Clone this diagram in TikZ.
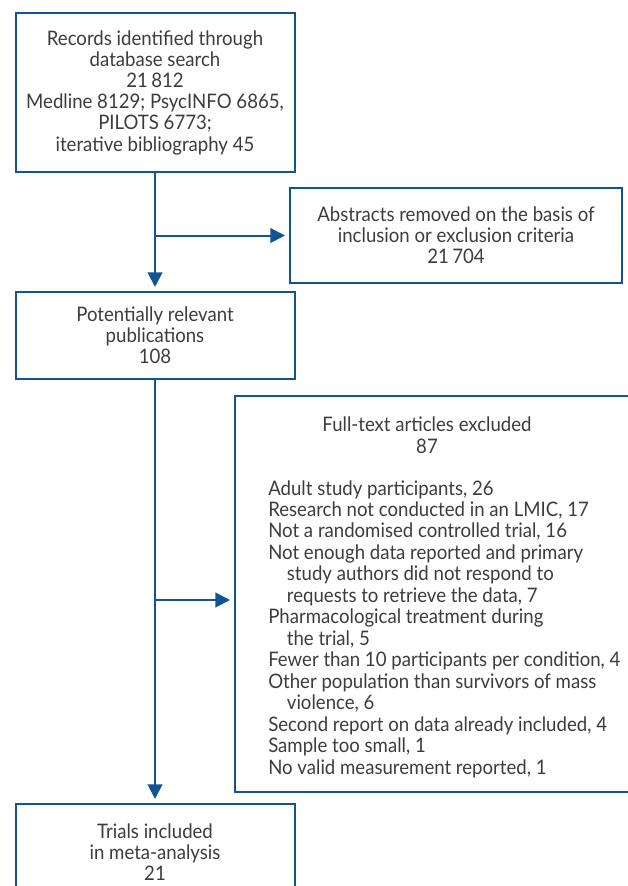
\documentclass[tikz,border=0pt]{standalone}
\usepackage{fontspec}
\setmainfont{Lato}[FakeStretch=0.93]
\usetikzlibrary{arrows.meta}
\definecolor{flowblue}{RGB}{17,84,146}
\definecolor{flowtext}{RGB}{60,60,60}
\tikzset{
	prisma box/.style={draw=flowblue, line width=1.5pt, align=center, inner sep=0pt,
		text=flowtext, font=\fontsize{15}{15.9}\selectfont},
	box text/.style={inner sep=0pt, text=flowtext, font=\fontsize{15}{16.1}\selectfont},
	flow arrow/.style={draw=flowblue, line width=1.5pt,
		-{Triangle[width=11pt,length=11pt]}, shorten >=3pt}
}

\begin{document}
\begin{tikzpicture}[x=0.75pt,y=0.75pt,yscale=-1,xscale=1]
	\useasboundingbox (0,0) rectangle (628,886);

	%Boxes
	\node [prisma box, minimum width=209.25pt, minimum height=119.25pt] (records) at (155,92.5)
		{Records identified through\\database search\\21\,812\\Medline 8129; PsycINFO 6865,\\PILOTS 6773;\\iterative bibliography 45};
	\node [prisma box, minimum width=249pt, minimum height=71.25pt] (abstracts) at (456,235.5)
		{Abstracts removed on the basis of\\inclusion or exclusion criteria\\21\,704};
	\node [prisma box, minimum width=209.25pt, minimum height=65.25pt] (relevant) at (155,335.5)
		{Potentially relevant\\publications\\108};
	\node [prisma box, minimum width=307.5pt, minimum height=297pt] (fulltext) at (440,593.5) {};
	\node [prisma box, minimum width=209.25pt, minimum height=72pt] (trials) at (155,852)
		{Trials included\\in meta-analysis\\21};

	% Text Node
	\node [box text, align=center] (ftheading) at (427,435) {Full-text articles excluded\\87};
	% Text Node
	\node [box text, align=left, anchor=north west] (ftreasons) at (268,480)
		{Adult study participants, 26\\
		Research not conducted in an LMIC, 17\\
		Not a randomised controlled trial, 16\\
		Not enough data reported and primary\\
		\hspace*{14pt}study authors did not respond to\\
		\hspace*{14pt}requests to retrieve the data, 7\\
		Pharmacological treatment during\\
		\hspace*{14pt}the trial, 5\\
		Fewer than 10 participants per condition, 4\\
		Other population than survivors of mass\\
		\hspace*{14pt}violence, 6\\
		Second report on data already included, 4\\
		Sample too small, 1\\
		No valid measurement reported, 1};

	%Connectors
	\draw [flow arrow] (records) -- (relevant);
	\draw [flow arrow] (records.south |- abstracts.west) -- (abstracts.west);
	\draw [flow arrow] (relevant) -- (trials);
	\coordinate (ftjoin) at (155,600);
	\draw [flow arrow] (ftjoin) -- (ftjoin -| fulltext.west);

\end{tikzpicture}
\end{document}
